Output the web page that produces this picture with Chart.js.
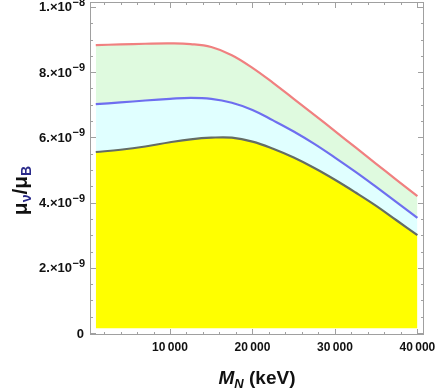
<!DOCTYPE html>
<html>
<head>
<meta charset="utf-8">
<script src="https://cdn.jsdelivr.net/npm/chart.js@4"></script>
<style>
  body { margin: 0; background: #fff; }
  canvas { display: block; }
</style>
</head>
<body>
<canvas id="grafica" width="436" height="390"></canvas>
<script>
// masa del neutrino pesado (keV)
var masas = [1000, 4000, 7000, 10000, 12500, 15000, 17500, 20000, 22500, 25000, 27500, 30000, 32500, 35000, 37500, 40000];
// curvas (en unidades de 1e-9 muB)
var curvaRoja = [8.83, 8.85, 8.87, 8.88, 8.86, 8.77, 8.52, 8.13, 7.67, 7.18, 6.69, 6.19, 5.69, 5.19, 4.69, 4.20];
var curvaAzul = [7.02, 7.07, 7.13, 7.18, 7.21, 7.18, 7.06, 6.84, 6.52, 6.18, 5.80, 5.38, 4.94, 4.48, 4.01, 3.53];
var curvaGris = [5.55, 5.62, 5.72, 5.85, 5.94, 5.99, 5.99, 5.87, 5.65, 5.38, 5.06, 4.70, 4.31, 3.90, 3.45, 3.00];
var pisoAmarillo = 0.15;

var ticksX = [10000, 20000, 30000, 40000];
var etiquetasX = ["10\u2009000", "20\u2009000", "30\u2009000", "40\u2009000"];
var ticksY = [0, 2, 4, 6, 8, 10];
var etiquetasY = ["0", "2.\u00d710|\u22129", "4.\u00d710|\u22129", "6.\u00d710|\u22129", "8.\u00d710|\u22129", "1.\u00d710|\u22128"];

function escalar(arr){
    return arr.map(function(v){ return v * 1e-9; });
}

function puntos(arr){
    var datos = escalar(arr);
    return masas.map(function(m, i){ return {x: m, y: datos[i]}; });
}

var FUENTE = "'Liberation Sans', Arial, sans-serif";
var GRIS_MARCO = "#a0a0a0";

// marco tipo Mathematica con marcas hacia adentro y etiquetas
var marcoPlugin = {
    id: "marco",
    afterDraw: function(chart){
        var ctx = chart.ctx;
        var a = chart.chartArea;
        var sx = chart.scales.x;
        var sy = chart.scales.y;
        var i, p, largo;

        ctx.save();
        ctx.strokeStyle = GRIS_MARCO;
        ctx.lineWidth = 1;
        ctx.strokeRect(a.left + 0.5, a.top + 0.5, a.right - a.left - 1, a.bottom - a.top - 1);

        ctx.beginPath();
        for(i = 2000; i <= 40000; i += 2000){
            p = Math.round(sx.getPixelForValue(i)) + 0.5;
            largo = (i % 10000 === 0) ? 6 : 3;
            ctx.moveTo(p, a.bottom); ctx.lineTo(p, a.bottom - largo);
            ctx.moveTo(p, a.top); ctx.lineTo(p, a.top + largo);
        }
        for(i = 0; i <= 20; i++){
            p = Math.round(sy.getPixelForValue(i * 0.5e-9)) + 0.5;
            largo = (i % 4 === 0) ? 6 : 3;
            ctx.moveTo(a.left, p); ctx.lineTo(a.left + largo, p);
            ctx.moveTo(a.right, p); ctx.lineTo(a.right - largo, p);
        }
        ctx.stroke();

        ctx.fillStyle = "#111";

        // etiquetas del eje x
        ctx.font = "bold 12px " + FUENTE;
        ctx.textAlign = "center";
        ctx.textBaseline = "middle";
        for(i = 0; i < ticksX.length; i++){
            ctx.fillText(etiquetasX[i], sx.getPixelForValue(ticksX[i]), a.bottom + 13);
        }

        // etiquetas del eje y con exponente
        for(i = 0; i < ticksY.length; i++){
            p = sy.getPixelForValue(ticksY[i] * 1e-9);
            var partes = etiquetasY[i].split("|");
            var derecha = a.left - 5;
            ctx.textAlign = "right";
            if(partes.length === 1){
                ctx.font = "bold 13px " + FUENTE;
                ctx.fillText(partes[0], derecha - 1, p + 1);
                continue;
            }
            ctx.font = "bold 11px " + FUENTE;
            var wExp = ctx.measureText(partes[1]).width;
            ctx.fillText(partes[1], derecha, p - 4);
            ctx.font = "bold 13px " + FUENTE;
            ctx.fillText(partes[0], derecha - wExp - 0.5, p + 1);
        }

        // titulo eje x
        ctx.textBaseline = "alphabetic";
        ctx.textAlign = "left";
        var cx = (a.left + a.right) / 2;
        ctx.font = "italic bold 19px " + FUENTE;
        var wM = ctx.measureText("M").width;
        ctx.font = "italic bold 13px " + FUENTE;
        var wN = ctx.measureText("N").width;
        ctx.font = "bold 19px " + FUENTE;
        var wResto = ctx.measureText(" (keV)").width;
        var x0 = cx - (wM + wN + wResto) / 2;
        var yb = 384;
        ctx.font = "italic bold 19px " + FUENTE;
        ctx.fillText("M", x0, yb);
        ctx.font = "italic bold 13px " + FUENTE;
        ctx.fillText("N", x0 + wM, yb + 4);
        ctx.font = "bold 19px " + FUENTE;
        ctx.fillText(" (keV)", x0 + wM + wN, yb);

        // titulo eje y
        var cy = (a.top + a.bottom) / 2 + 22;
        ctx.translate(27, cy);
        ctx.rotate(-Math.PI / 2);
        var segs = [
            {t: "\u03bc", f: "bold 21px ", c: "#111", dy: 0},
            {t: "\u03bd", f: "bold 14px ", c: "#2a2a8a", dy: 4},
            {t: "/\u03bc", f: "bold 21px ", c: "#111", dy: 0},
            {t: "B", f: "bold 14px ", c: "#2a2a8a", dy: 4}
        ];
        var total = 0;
        segs.forEach(function(s){ ctx.font = s.f + FUENTE; s.w = ctx.measureText(s.t).width; total += s.w; });
        var xx = -total / 2;
        segs.forEach(function(s){
            ctx.font = s.f + FUENTE;
            ctx.fillStyle = s.c;
            ctx.fillText(s.t, xx, s.dy);
            xx += s.w;
        });
        ctx.restore();
    }
};

var ctx = document.getElementById("grafica").getContext("2d");

var grafica = new Chart(ctx, {
    type: "line",
    data: {
        datasets: [
            {
                data: puntos(curvaRoja),
                borderColor: "rgb(240,128,128)",
                backgroundColor: "rgb(223,250,223)",
                fill: "+1",
                borderWidth: 2.2
            },
            {
                data: puntos(curvaAzul),
                borderColor: "rgb(110,110,240)",
                backgroundColor: "rgb(224,255,255)",
                fill: "+1",
                borderWidth: 2.2
            },
            {
                data: puntos(curvaGris),
                borderColor: "rgb(100,108,100)",
                backgroundColor: "rgb(255,255,0)",
                fill: {value: pisoAmarillo * 1e-9},
                borderWidth: 2.2
            }
        ]
    },
    options: {
        responsive: false,
        devicePixelRatio: 1,
        animation: false,
        layout: { padding: { top: 2, right: 12, left: 0, bottom: 0 } },
        elements: {
            point: { radius: 0 },
            line: { tension: 0.4 }
        },
        plugins: {
            legend: { display: false },
            tooltip: { enabled: false },
            filler: { drawTime: "beforeDatasetsDraw" }
        },
        scales: {
            x: {
                type: "linear",
                min: 300,
                max: 40800,
                grid: { display: false, drawTicks: false },
                border: { display: false },
                afterFit: function(scale){ scale.height = 55; },
                ticks: { display: false }
            },
            y: {
                min: -0.06e-9,
                max: 10.15e-9,
                grid: { display: false, drawTicks: false },
                border: { display: false },
                afterFit: function(scale){ scale.width = 90; },
                ticks: { display: false }
            }
        }
    },
    plugins: [marcoPlugin]
});
</script>
</body>
</html>
